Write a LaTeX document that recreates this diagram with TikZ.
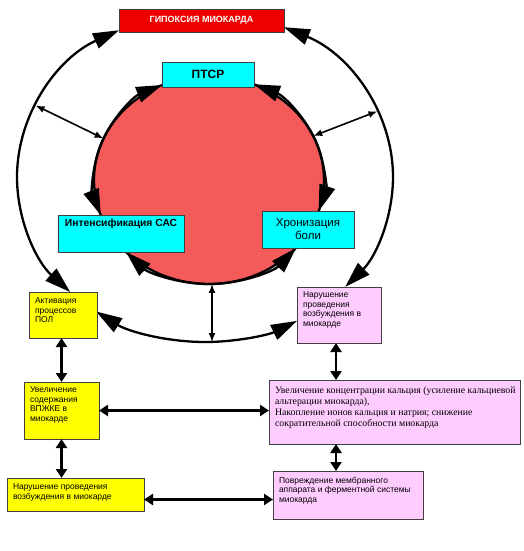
\documentclass[tikz,border=0pt]{standalone}
\usepackage{fontspec}
\setmainfont{Liberation Sans}
\newfontfamily\timesfont{Liberation Serif}
\usetikzlibrary{arrows.meta, calc}

\definecolor{hypred}{HTML}{EE0000}
\definecolor{heartred}{HTML}{F55A5A}
\definecolor{boxcyan}{HTML}{00FFFF}
\definecolor{boxyellow}{HTML}{FFFF00}
\definecolor{boxpink}{HTML}{FFCCFF}

% width, height, top gap, text
\newcommand{\cardtext}[4]{\parbox[c][#2pt][t]{#1pt}{\vspace*{#3pt}\raggedright\leftskip=6pt\relax #4}}

\begin{document}
\begin{tikzpicture}[x=1pt, y=-1pt,
    ring/.style={line width=2.3pt, -{Triangle[length=26pt, width=16pt]}},
    link/.style={line width=1.6pt, {Latex[length=9pt, width=7pt]}-{Latex[length=9pt, width=7pt]}},
    bond/.style={line width=2.4pt, {Triangle[length=9pt, width=11pt]}-{Triangle[length=9pt, width=11pt]}},
    card/.style={draw=black!75, line width=0.9pt, inner sep=0pt, outer sep=0pt, anchor=center},
    small/.style={font=\fontsize{8.5}{9.5}\selectfont}]

    \useasboundingbox (0,0) rectangle (524,551);

    \coordinate (oc) at (205,177);
    \coordinate (ic) at (209,180);

    % outer ring
    \coordinate (ow) at ($(oc)+(180:188 and 165)$);
    \coordinate (oe) at ($(oc)+(0:188 and 165)$);
    \coordinate (os) at ($(oc)+(90:188 and 165)$);
    \draw[ring] (ow) arc[start angle=180, end angle=242.8, x radius=188, y radius=165];
    \draw[ring] (ow) arc[start angle=180, end angle=135.8, x radius=188, y radius=165];
    \draw[ring] (oe) arc[start angle=0, end angle=-65.2, x radius=188, y radius=165];
    \draw[ring] (oe) arc[start angle=0, end angle=41.8, x radius=188, y radius=165];
    \draw[ring] (os) arc[start angle=90, end angle=125.4, x radius=188, y radius=165];
    \draw[ring] (os) arc[start angle=90, end angle=60.7, x radius=188, y radius=165];

    % inner circle
    \draw[fill=heartred, line width=2.3pt] (ic) ellipse [x radius=115, y radius=104];
    \coordinate (iw) at ($(ic)+(200:115 and 104)$);
    \coordinate (ie) at ($(ic)+(-20:115 and 104)$);
    \coordinate (is) at ($(ic)+(90:115 and 104)$);
    \draw[ring] (iw) arc[start angle=200, end angle=246, x radius=115, y radius=104];
    \draw[ring] (iw) arc[start angle=200, end angle=160.3, x radius=115, y radius=104];
    \draw[ring] (ie) arc[start angle=-20, end angle=-67, x radius=115, y radius=104];
    \draw[ring] (ie) arc[start angle=-20, end angle=17.3, x radius=115, y radius=104];
    \draw[ring] (is) arc[start angle=90, end angle=136.2, x radius=115, y radius=104];
    \draw[ring] (is) arc[start angle=90, end angle=40.8, x radius=115, y radius=104];

    % boxes
    \node[card, fill=hypred, minimum width=165pt, minimum height=23pt, text=white,
        font=\bfseries\fontsize{9}{10}\selectfont] (hyp) at (201.5,20.5) {ГИПОКСИЯ МИОКАРДА};
    \node[card, fill=boxcyan, minimum width=92pt, minimum height=25pt,
        font=\bfseries\fontsize{12}{14}\selectfont] (ptsr) at (208,74.5) {ПТСР};
    \node[card, fill=boxcyan] (sas) at (121,233.5)
        {\parbox[c][37pt][t]{126pt}{\vspace*{4pt}\centering\bfseries\fontsize{10.3}{12}\selectfont Интенсификация САС}};
    \node[card, fill=boxcyan, minimum width=92pt, minimum height=37pt, align=center,
        font=\fontsize{11.5}{13}\selectfont] (chr) at (308,229.5) {Хронизация\\боли};

    \node[card, fill=boxyellow, small] (act) at (63,315)
        {\cardtext{68}{46}{6}{Активация\\процессов\\ПОЛ}};
    \node[card, fill=boxpink, small] (nar) at (339,315)
        {\cardtext{84}{56}{5}{Нарушение\\проведения\\возбуждения в\\миокарде}};
    \node[card, fill=boxyellow, small] (vpz) at (61.5,410.5)
        {\cardtext{75}{57}{5}{Увеличение\\содержания\\ВПЖКЕ в\\миокарде}};
    \node[card, fill=boxpink] (cal) at (394.5,412)
        {\cardtext{251}{64}{7}{\timesfont\fontsize{9.8}{11}\selectfont Увеличение концентрации кальция (усиление кальциевой\\альтерации миокарда),\\Накопление ионов кальция и натрия; снижение\\сократительной способности миокарда}};
    \node[card, fill=boxyellow, small] (ner) at (75.5,494.5)
        {\cardtext{137}{33}{6}{Нарушение проведения\\возбуждения в миокарде}};
    \node[card, fill=boxpink, small] (pov) at (348,495)
        {\cardtext{150}{48}{6}{Повреждение мембранного\\аппарата и ферментной системы\\миокарда}};

    % links between the rings
    \coordinate (oul) at ($(oc)+(205.7:188 and 165)$);
    \coordinate (iul) at ($(ic)+(203.5:115 and 104)$);
    \coordinate (our) at ($(oc)+(-23.5:188 and 165)$);
    \coordinate (iur) at ($(ic)+(-25:115 and 104)$);
    \coordinate (ib) at ($(ic)+(88.5:115 and 104)$);
    \draw[link] (oul) -- (iul);
    \draw[link] (our) -- (iur);
    \draw[link] (ib) -- (ib |- os);

    % links between the boxes
    \draw[bond] (act.south -| vpz.north) -- (vpz.north);
    \draw[bond] ([xshift=-3pt]nar.south) -- ([xshift=-3pt]nar.south |- cal.north);
    \draw[bond] (vpz.south) -- (vpz.south |- ner.north);
    \draw[bond] ([xshift=-3pt]nar.south |- cal.south) -- ([xshift=-3pt]nar.south |- pov.north);
    \draw[bond] (vpz.east) -- (vpz.east -| cal.west);
    \draw[bond] ([yshift=-5pt]ner.east) -- ([yshift=-5pt]ner.east -| pov.west);
\end{tikzpicture}
\end{document}
